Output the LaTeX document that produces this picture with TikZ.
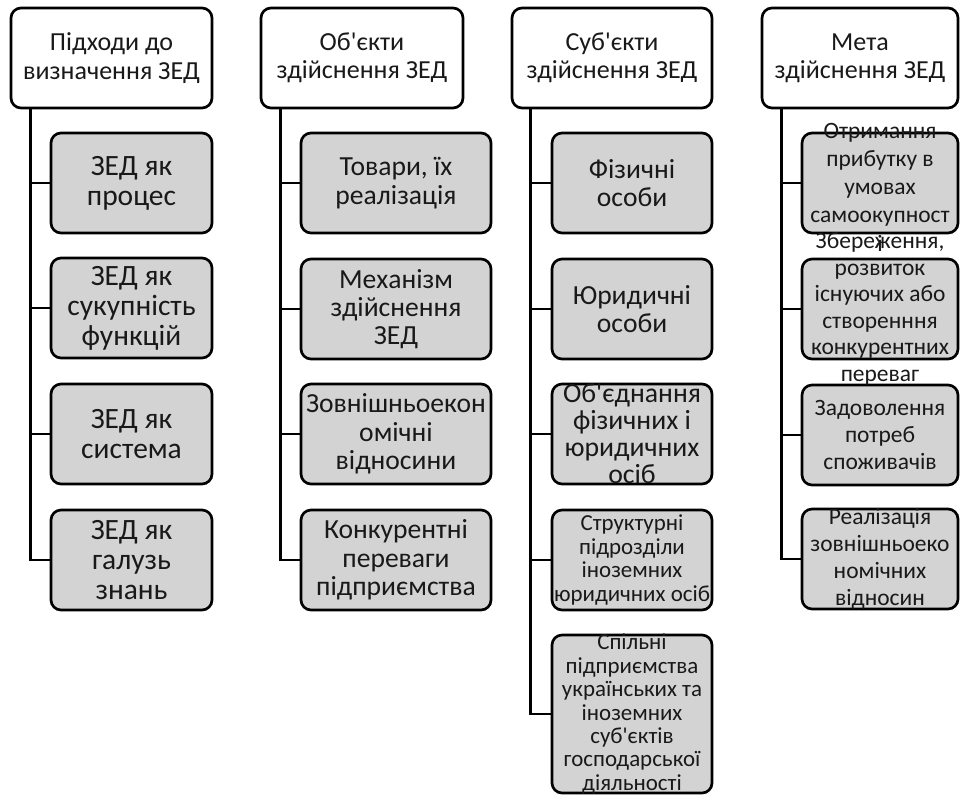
\documentclass[tikz,border=0pt]{standalone}
\usepackage{fontspec}
\newfontfamily\zedfont{Carlito}
\definecolor{boxgray}{RGB}{211,211,211}
\tikzset{every picture/.style={line width=2pt}}

\begin{document}
\begin{tikzpicture}[x=0.75pt,y=0.75pt,yscale=-1,xscale=1,
  headbox/.style={draw,rounded corners=7.5pt,fill=white,minimum height=75pt,inner sep=0pt},
  subbox/.style={draw,rounded corners=7.5pt,fill=boxgray,minimum height=75pt,inner sep=0pt},
  txt/.style={align=center,inner sep=0pt,text=black!90,font=\zedfont\fontsize{20.7}{21.2}\selectfont},
  headtxt/.style={txt,font=\zedfont\fontsize{19.5}{21.2}\selectfont},
  bigtxt/.style={txt,font=\zedfont\fontsize{22.1}{22.5}\selectfont},
  midtxt/.style={txt,font=\zedfont\fontsize{20.8}{20.2}\selectfont},
  smalltxt/.style={txt,font=\zedfont\fontsize{17.2}{17.6}\selectfont},
  goaltxt/.style={txt,font=\zedfont\fontsize{17.6}{20.4}\selectfont}]
\useasboundingbox (0,0) rectangle (960,796);

% Column 1
\node[headbox,minimum width=150.75pt] (h1) at (111.5,58) {};
\node[subbox,minimum width=120.75pt] (a1) at (131.5,183) {};
\node[subbox,minimum width=120.75pt] (a2) at (131.5,308) {};
\node[subbox,minimum width=120.75pt] (a3) at (131.5,434) {};
\node[subbox,minimum width=120.75pt] (a4) at (131.5,560) {};
\coordinate (s1) at ([xshift=15.75pt]h1.south west);
\draw (s1) |- (a4.west);
\draw (a1.west) -- (a1.west -| s1);
\draw (a2.west) -- (a2.west -| s1);
\draw (a3.west) -- (a3.west -| s1);
% Text Node
\node[headtxt] (h1t) at (h1) {Підходи до\\визначення ЗЕД};
\node[bigtxt] (a1t) at (a1) {ЗЕД як\\процес};
\node[bigtxt] (a2t) at (a2) {ЗЕД як\\сукупність\\функцій};
\node[bigtxt] (a3t) at (a3) {ЗЕД як\\система};
\node[bigtxt] (a4t) at (a4) {ЗЕД як\\галузь\\знань};

% Column 2
\node[headbox,minimum width=151.5pt] (h2) at (362,58) {};
\node[subbox,minimum width=142.5pt] (b1) at (396,183) {};
\node[subbox,minimum width=142.5pt] (b2) at (396,309) {};
\node[subbox,minimum width=142.5pt] (b3) at (396,434) {};
\node[subbox,minimum width=142.5pt] (b4) at (396,560) {};
\coordinate (s2) at ([xshift=15.75pt]h2.south west);
\draw (s2) |- (b4.west);
\draw (b1.west) -- (b1.west -| s2);
\draw (b2.west) -- (b2.west -| s2);
\draw (b3.west) -- (b3.west -| s2);
% Text Node
\node[headtxt] (h2t) at (h2) {Об'єкти\\здійснення ЗЕД};
\node[txt] (b1t) at (b1) {Товари, їх\\реалізація};
\node[txt] (b2t) at (b2) {Механізм\\здійснення\\ЗЕД};
\node[txt] (b3t) at (b3) {Зовнішньоекон\\омічні\\відносини};
\node[txt] (b4t) at (b4) {Конкурентні\\переваги\\підприємства};

% Column 3
\node[headbox,minimum width=150pt] (h3) at (612,58) {};
\node[subbox,minimum width=120pt] (c1) at (632,183) {};
\node[subbox,minimum width=120pt] (c2) at (632,309) {};
\node[subbox,minimum width=120pt] (c3) at (632,434) {};
\node[subbox,minimum width=120pt] (c4) at (632,560) {};
\node[subbox,minimum width=120pt,minimum height=118.5pt] (c5) at (632,714) {};
\coordinate (s3) at ([xshift=15pt]h3.south west);
\draw (s3) |- (c5.west);
\draw (c1.west) -- (c1.west -| s3);
\draw (c2.west) -- (c2.west -| s3);
\draw (c3.west) -- (c3.west -| s3);
\draw (c4.west) -- (c4.west -| s3);
% Text Node
\node[headtxt] (h3t) at (h3) {Суб'єкти\\здійснення ЗЕД};
\node[txt] (c1t) at (c1) {Фізичні\\особи};
\node[txt] (c2t) at (c2) {Юридичні\\особи};
\node[midtxt] (c3t) at (c3) {Об'єднання\\фізичних і\\юридичних\\осіб};
\node[smalltxt] (c4t) at (c4) {Структурні\\підрозділи\\іноземних\\юридичних осіб};
\node[smalltxt] (c5t) at (c5) {Спільні\\підприємства\\українських та\\іноземних\\суб'єктів\\господарської\\діяльності};

% Column 4
\node[headbox,minimum width=147pt] (h4) at (860,58) {};
\node[subbox,minimum width=117pt] (d1) at (880,183) {};
\node[subbox,minimum width=117pt] (d2) at (880,309) {};
\node[subbox,minimum width=117pt] (d3) at (880,435) {};
\node[subbox,minimum width=117pt] (d4) at (880,559) {};
\coordinate (s4) at ([xshift=15.75pt]h4.south west);
\draw (s4) |- (d4.west);
\draw (d1.west) -- (d1.west -| s4);
\draw (d2.west) -- (d2.west -| s4);
\draw (d3.west) -- (d3.west -| s4);
% Text Node
\node[goaltxt,font=\zedfont\fontsize{17.6}{21.2}\selectfont] (d1t) at ([yshift=3pt]d1.center) {Отримання\\прибутку в\\умовах\\самоокупност\\і};
\node[headtxt] (h4t) at (h4) {Мета\\здійснення ЗЕД};
\node[goaltxt,font=\zedfont\fontsize{17.6}{19.9}\selectfont] (d2t) at (d2) {Збереження,\\розвиток\\існуючих або\\створенння\\конкурентних\\переваг};
\node[goaltxt] (d3t) at (d3) {Задоволення\\потреб\\споживачів};
\node[goaltxt] (d4t) at (d4) {Реалізація\\зовнішньоеко\\номічних\\відносин};

\end{tikzpicture}
\end{document}
